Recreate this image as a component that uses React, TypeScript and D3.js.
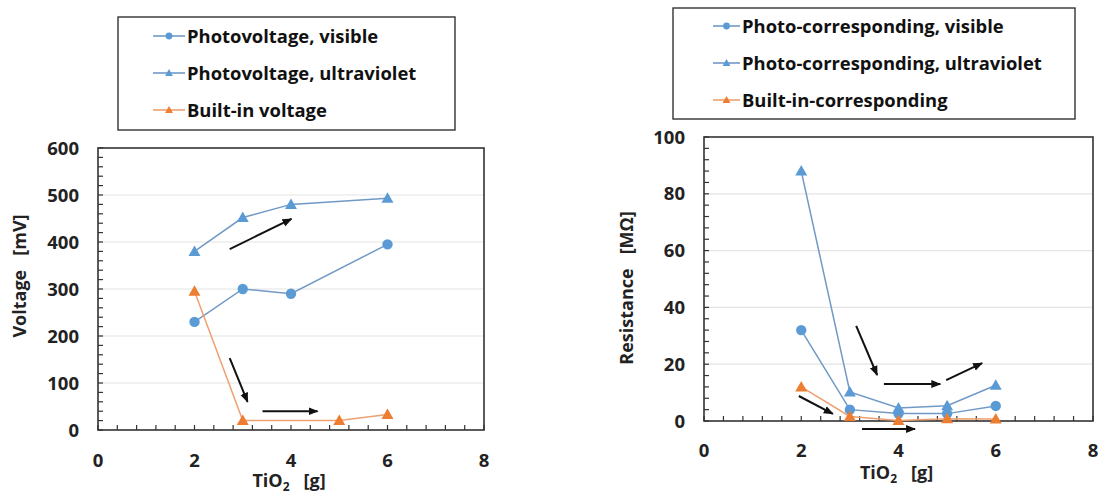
import React from "react";
import * as d3 from "d3";

// ---------- data ----------
const xTickValues = [0, 2, 4, 6, 8];
const voltageTicks = [0, 100, 200, 300, 400, 500, 600];
const resistanceTicks = [0, 20, 40, 60, 80, 100];

const pvVisibleX = [2, 3, 4, 6];
const pvVisibleY = [230, 300, 290, 395];
const pvUvX = [2, 3, 4, 6];
const pvUvY = [380, 452, 480, 493];
const builtInX = [2, 3, 5, 6];
const builtInY = [295, 20, 20, 33];

const resX = [2, 3, 4, 5, 6];
const resVisible = [32, 4, 2.6, 2.6, 5.3];
const resUv = [88, 10.2, 4.6, 5.4, 12.6];
const resBuiltIn = [12, 1.6, 0.2, 0.8, 0.7];

const voltageLegend = ["Photovoltage, visible", "Photovoltage, ultraviolet", "Built-in voltage"];
const resistanceLegend = ["Photo-corresponding, visible", "Photo-corresponding, ultraviolet", "Built-in-corresponding"];

// arrows in data units [x1, y1, x2, y2]
const voltageArrows = [
  [2.73, 385, 4.01, 449],
  [2.73, 153, 3.1, 60],
  [3.41, 40, 4.55, 40],
];
const resistanceArrows = [
  [3.13, 33.5, 3.56, 16.2],
  [3.7, 13, 4.86, 13],
  [4.98, 14.4, 5.72, 20.4],
  [1.95, 8.8, 2.65, 2.5],
  [3.25, -2.8, 4.34, -2.8],
];

const BLUE = "#5b9bd5";
const BLUE_LINE = "#7199c6";
const ORANGE = "#ed7d31";
const ORANGE_LINE = "#eea070";
const FONT = "'Open Sans', Lato, sans-serif";

type Series = { xs: number[]; ys: number[]; shape: "circle" | "triangle"; fill: string; line: string };

function Marker({ shape, x, y, fill, size }: { shape: string; x: number; y: number; fill: string; size: number }) {
  if (shape === "circle") return <circle cx={x} cy={y} r={size} fill={fill} />;
  const s = size * 1.15;
  const p = `M${x},${y - s} L${x + s},${y + s * 0.75} L${x - s},${y + s * 0.75} Z`;
  return <path d={p} fill={fill} />;
}

function Chart(props: {
  id: string;
  left: number; right: number; top: number; bottom: number;
  yMax: number; yTicks: number[]; yMinor: number;
  series: Series[];
  arrows: number[][];
  yLabel: string;
  yLabelX: number; yLabelY: number;
  xTickY: number; xTitleY: number;
  legend: string[];
  legBox: [number, number, number, number];
  legRows: number[];
  legLine: [number, number];
}) {
  const { left, right, top, bottom } = props;
  const x = d3.scaleLinear().domain([0, 8]).range([left, right]);
  const y = d3.scaleLinear().domain([0, props.yMax]).range([bottom, top]);
  const xMinor = d3.range(0, 8.0001, 0.4);
  const yMinor = d3.range(0, props.yMax + 0.0001, props.yMinor);
  const line = d3.line<[number, number]>().x((d) => x(d[0])).y((d) => y(d[1]));
  const markerId = `arrow-${props.id}`;
  return (
    <g>
      <defs>
        <marker id={markerId} viewBox="0 0 10 10" refX="9" refY="5" markerWidth="5" markerHeight="5" orient="auto">
          <path d="M0,1 L10,5 L0,9 Z" fill="#111" />
        </marker>
      </defs>
      {/* gridlines */}
      {props.yTicks.filter((t) => t > 0 && t < props.yMax).map((t) => (
        <line key={t} x1={left} x2={right} y1={y(t)} y2={y(t)} stroke="#e4e4e4" strokeWidth={1.2} />
      ))}
      {/* frame */}
      <rect x={left} y={top} width={right - left} height={bottom - top} fill="none" stroke="#333" strokeWidth={1.6} />
      {/* minor ticks */}
      {yMinor.map((t, i) => (
        <line key={"ym" + i} x1={left} x2={left + 5} y1={y(t)} y2={y(t)} stroke="#333" strokeWidth={1.2} />
      ))}
      {xMinor.map((t, i) => (
        <line key={"xm" + i} x1={x(t)} x2={x(t)} y1={bottom} y2={bottom - 5} stroke="#333" strokeWidth={1.2} />
      ))}
      {/* y tick labels */}
      {props.yTicks.map((t) => (
        <text key={"yl" + t} x={left - 19} y={y(t)} dy="0.36em" textAnchor="end" fontFamily={FONT} fontWeight={700} fontSize={18.5} fill="#222">
          {t}
        </text>
      ))}
      {/* x tick labels */}
      {xTickValues.map((t) => (
        <text key={"xl" + t} x={x(t)} y={props.xTickY} dy="0.36em" textAnchor="middle" fontFamily={FONT} fontWeight={700} fontSize={18.5} fill="#222">
          {t}
        </text>
      ))}
      {/* x title */}
      <text x={x(4) - 2} y={props.xTitleY} dy="0.36em" textAnchor="middle" fontFamily={FONT} fontWeight={700} fontSize={18} fill="#222">
        TiO<tspan fontSize={12} dy="4">2</tspan>
        <tspan dy="-4">{"\u00a0\u00a0\u00a0[g]"}</tspan>
      </text>
      {/* y title */}
      <text
        transform={`translate(${props.yLabelX},${props.yLabelY}) rotate(-90)`}
        dy="0.36em"
        textAnchor="middle"
        fontFamily={FONT}
        fontWeight={700}
        fontSize={18}
        fill="#222"
      >
        {props.yLabel}
      </text>
      {/* series */}
      {props.series.map((s, i) => {
        const pts = s.xs.map((v, j) => [v, s.ys[j]] as [number, number]);
        return (
          <g key={"s" + i}>
            <path d={line(pts) || ""} fill="none" stroke={s.line} strokeWidth={1.5} />
            {pts.map((p, j) => (
              <Marker key={j} shape={s.shape} x={x(p[0])} y={y(p[1])} fill={s.fill} size={5.2} />
            ))}
          </g>
        );
      })}
      {/* arrows */}
      {props.arrows.map((a, i) => (
        <line key={"a" + i} x1={x(a[0])} y1={y(a[1])} x2={x(a[2])} y2={y(a[3])} stroke="#111" strokeWidth={2} markerEnd={`url(#${markerId})`} />
      ))}
      {/* legend */}
      <rect
        x={props.legBox[0]}
        y={props.legBox[1]}
        width={props.legBox[2] - props.legBox[0]}
        height={props.legBox[3] - props.legBox[1]}
        fill="#fff"
        stroke="#333"
        strokeWidth={1.4}
      />
      {props.legend.map((name, i) => {
        const s = props.series[i];
        const ly = props.legRows[i];
        const [l1, l2] = props.legLine;
        return (
          <g key={"lg" + i}>
            <line x1={l1} x2={l2} y1={ly} y2={ly} stroke={s.line} strokeWidth={1.6} />
            <Marker shape={s.shape} x={(l1 + l2) / 2} y={ly} fill={s.fill} size={3.4} />
            <text x={l2 + 2} y={ly} dy="0.36em" fontFamily={FONT} fontWeight={700} fontSize={18.4} fill="#111">
              {name}
            </text>
          </g>
        );
      })}
    </g>
  );
}

export default function App() {
  const vSeries: Series[] = [
    { xs: pvVisibleX, ys: pvVisibleY, shape: "circle", fill: BLUE, line: BLUE_LINE },
    { xs: pvUvX, ys: pvUvY, shape: "triangle", fill: BLUE, line: BLUE_LINE },
    { xs: builtInX, ys: builtInY, shape: "triangle", fill: ORANGE, line: ORANGE_LINE },
  ];
  const rSeries: Series[] = [
    { xs: resX, ys: resVisible, shape: "circle", fill: BLUE, line: BLUE_LINE },
    { xs: resX, ys: resUv, shape: "triangle", fill: BLUE, line: BLUE_LINE },
    { xs: resX, ys: resBuiltIn, shape: "triangle", fill: ORANGE, line: ORANGE_LINE },
  ];
  return (
    <svg width={1102} height={495} style={{ position: "absolute", left: 0, top: 0, background: "#fff" }}>
      <rect width={1102} height={495} fill="#fff" />
      <Chart
        id="v"
        left={98} right={484} top={148} bottom={430}
        yMax={600} yTicks={voltageTicks} yMinor={20}
        series={vSeries}
        arrows={voltageArrows}
        yLabel={"Voltage\u00a0\u00a0\u00a0[mV]"}
        yLabelX={20} yLabelY={276}
        xTickY={460} xTitleY={481}
        legend={voltageLegend}
        legBox={[118, 17, 455, 130]}
        legRows={[36, 73, 110]}
        legLine={[153, 185]}
      />
      <Chart
        id="r"
        left={704} right={1093} top={137} bottom={421}
        yMax={100} yTicks={resistanceTicks} yMinor={4}
        series={rSeries}
        arrows={resistanceArrows}
        yLabel={"Resistance\u00a0\u00a0\u00a0[M\u03a9]"}
        yLabelX={627} yLabelY={288}
        xTickY={450} xTitleY={473}
        legend={resistanceLegend}
        legBox={[673, 8, 1075, 119]}
        legRows={[26, 63, 100]}
        legLine={[713, 740]}
      />
    </svg>
  );
}
